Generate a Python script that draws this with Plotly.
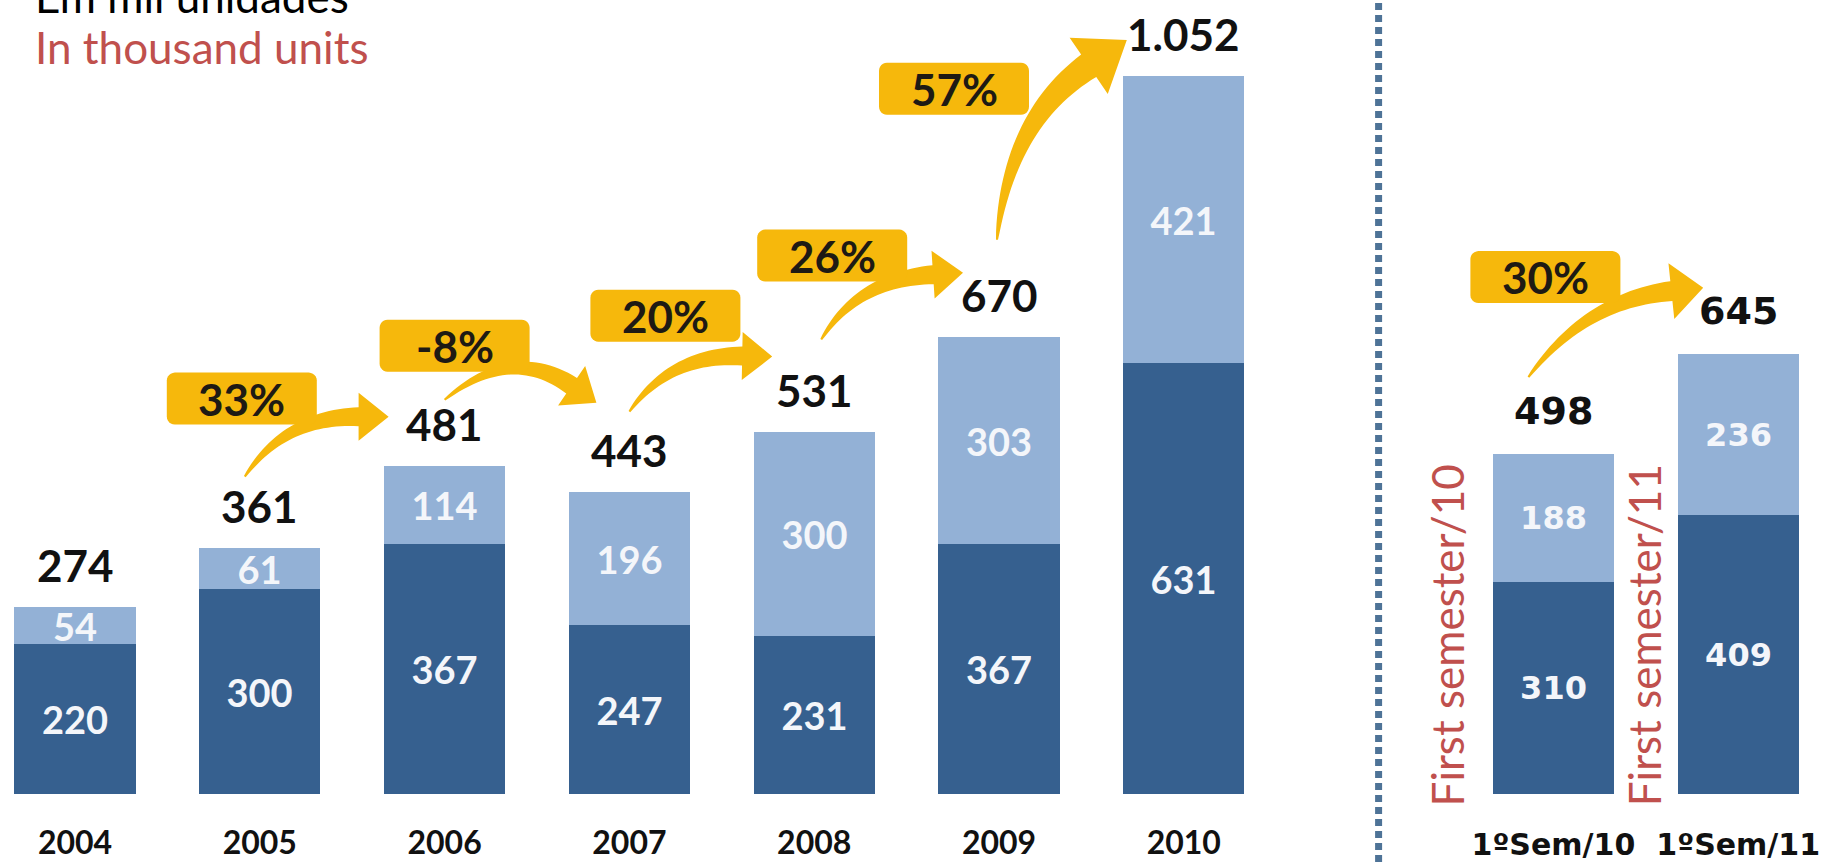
import math
import plotly.graph_objects as go

# ---- data -------------------------------------------------------------
years = ["2004", "2005", "2006", "2007", "2008", "2009", "2010"]
year_lower = [220, 300, 367, 247, 231, 367, 631]
year_upper = [54, 61, 114, 196, 300, 303, 421]

semesters = ["1ºSem/10", "1ºSem/11"]
sem_lower = [310, 409]
sem_upper = [188, 236]
sem_notes = ["First semester/10", "First semester/11"]

caption_pt = "Em mil unidades"
caption_en = "In thousand units"

# ---- canvas & scale ---------------------------------------------------
W, H = 1821, 862
SLOT = 184.8      # px per category slot
X0 = 75.0         # px centre of the first slot
BASE = 794.0      # px of the zero line, from the top
PPU = 0.6825      # px per unit on the value axis
BAR_W = 0.655
LABEL_GAP = 42

DARK = "#36608F"
LIGHT = "#93B1D6"
GOLD = "#F6B80C"
RED = "#C0504D"

x_range = [-X0 / SLOT, (W - X0) / SLOT]
y_range = [0, BASE / PPU]
y_domain = [(H - BASE) / H, 1]

year_pos = list(range(len(years)))
gap_pos = len(years)
sem_pos = [gap_pos + 1 + i for i in range(len(semesters))]

year_tot = [a + b for a, b in zip(year_lower, year_upper)]
sem_tot = [a + b for a, b in zip(sem_lower, sem_upper)]


def fmt(v):
    return f"{v:,}".replace(",", ".")


def to_px(x, y):
    return X0 + x * SLOT, BASE - y * PPU


def to_data(px, py):
    return (px - X0) / SLOT, (BASE - py) / PPU


fig = go.Figure()

inner_year = dict(family="Lato", size=38, color="#F4F6FA", weight="bold")
inner_sem = dict(family="DejaVu Sans", size=32, color="#F4F6FA", weight="bold")

for vals, col in ((year_lower, DARK), (year_upper, LIGHT)):
    fig.add_trace(go.Bar(
        x=year_pos, y=vals, width=BAR_W, marker=dict(color=col, line=dict(width=0)),
        text=[str(v) for v in vals], textposition="inside", insidetextanchor="middle",
        textangle=0, constraintext="none", textfont=inner_year,
        xaxis="x", yaxis="y", showlegend=False, hoverinfo="skip"))

for vals, col in ((sem_lower, DARK), (sem_upper, LIGHT)):
    fig.add_trace(go.Bar(
        x=sem_pos, y=vals, width=BAR_W, marker=dict(color=col, line=dict(width=0)),
        text=[str(v) for v in vals], textposition="inside", insidetextanchor="middle",
        textangle=0, constraintext="none", textfont=inner_sem,
        xaxis="x2", yaxis="y", showlegend=False, hoverinfo="skip"))

annotations = []
# totals above the stacks
for p, t in zip(year_pos, year_tot):
    annotations.append(dict(x=p, y=t, xref="x", yref="y", text=fmt(t), showarrow=False,
                            yanchor="middle", yshift=LABEL_GAP,
                            font=dict(family="Lato", size=44, color="#111111", weight="bold")))
for p, t in zip(sem_pos, sem_tot):
    annotations.append(dict(x=p, y=t, xref="x2", yref="y", text=fmt(t), showarrow=False,
                            yanchor="middle", yshift=LABEL_GAP + 1,
                            font=dict(family="DejaVu Sans", size=38, color="#111111", weight="bold")))

# growth arrows between consecutive totals, geometry given as px offsets
arrow_specs = [
    # tail offset, ctrl offset (from tail), tip offset, head len, head half, body width, box offset
    dict(src=1, dst=2, tail=(-15, -29), ctrl=(40, -60), tip=(-56, -7), hl=30, hh=24, bw=19, box=(-18, -107)),
    dict(src=2, dst=3, tail=(0, -24), ctrl=(67, -55), tip=(-33, -47), hl=30, hh=24, bw=19, box=(10, -78)),
    dict(src=3, dst=4, tail=(0, -38), ctrl=(40, -57), tip=(-42, -33), hl=30, hh=24, bw=19, box=(36, -134)),
    dict(src=4, dst=5, tail=(7, -50), ctrl=(36, -60), tip=(-36, -22), hl=30, hh=24, bw=19, box=(18, -134)),
    dict(src=5, dst=6, tail=(-2, -55), ctrl=(12, -120), tip=(-57, 6), hl=46, hh=34, bw=27, box=(-45, -206)),
]
sem_arrow = dict(src=0, dst=1, tail=(-25, -35), ctrl=(57, -77), tip=(-35, -24), hl=32, hh=28, bw=20, box=(-8, -135))


def bez(p0, p1, p2, t):
    a = (1 - t) ** 2
    b = 2 * (1 - t) * t
    c = t * t
    return (a * p0[0] + b * p1[0] + c * p2[0], a * p0[1] + b * p1[1] + c * p2[1])


def bez_d(p0, p1, p2, t):
    return (2 * (1 - t) * (p1[0] - p0[0]) + 2 * t * (p2[0] - p1[0]),
            2 * (1 - t) * (p1[1] - p0[1]) + 2 * t * (p2[1] - p1[1]))


def unit(v):
    n = math.hypot(v[0], v[1]) or 1.0
    return (v[0] / n, v[1] / n)


def path_from_px(points):
    pts = [to_data(px, py) for px, py in points]
    return "M " + " L ".join(f"{x:.5f},{y:.4f}" for x, y in pts) + " Z"


def arrow_points(tail, ctrl, tip, hl, hh, bw, tw=2.0, n=30):
    u = unit((tip[0] - ctrl[0], tip[1] - ctrl[1]))
    base = (tip[0] - u[0] * hl, tip[1] - u[1] * hl)
    left, right = [], []
    for k in range(n + 1):
        t = k / n
        p = bez(tail, ctrl, base, t)
        d = unit(bez_d(tail, ctrl, base, t))
        nrm = (-d[1], d[0])
        w = (tw + (bw - tw) * t ** 0.8) / 2
        left.append((p[0] + nrm[0] * w, p[1] + nrm[1] * w))
        right.append((p[0] - nrm[0] * w, p[1] - nrm[1] * w))
    nu = (-u[1], u[0])
    head = [(base[0] + nu[0] * hh, base[1] + nu[1] * hh), tip,
            (base[0] - nu[0] * hh, base[1] - nu[1] * hh)]
    return left + head + right[::-1]


def rounded_box(cx, cy, w, h, r=8, n=6):
    pts = []
    corners = [(cx + w / 2 - r, cy - h / 2 + r, -90), (cx + w / 2 - r, cy + h / 2 - r, 0),
               (cx - w / 2 + r, cy + h / 2 - r, 90), (cx - w / 2 + r, cy - h / 2 + r, 180)]
    for ccx, ccy, a0 in corners:
        for k in range(n + 1):
            a = math.radians(a0 + 90 * k / n)
            pts.append((ccx + r * math.cos(a), ccy + r * math.sin(a)))
    return pts


shapes = []
boxes = []


def add_arrow(spec, pos, tot):
    sx, sy = to_px(pos[spec["src"]], tot[spec["src"]])
    sy -= LABEL_GAP
    dx, dy = to_px(pos[spec["dst"]], tot[spec["dst"]])
    dy -= LABEL_GAP
    tail = (sx + spec["tail"][0], sy + spec["tail"][1])
    ctrl = (tail[0] + spec["ctrl"][0], tail[1] + spec["ctrl"][1])
    tip = (dx + spec["tip"][0], dy + spec["tip"][1])
    shapes.append(dict(type="path", xref="x", yref="y", layer="above",
                       path=path_from_px(arrow_points(tail, ctrl, tip, spec["hl"], spec["hh"], spec["bw"])),
                       fillcolor=GOLD, line=dict(width=0)))
    bx, by = sx + spec["box"][0], sy + spec["box"][1]
    boxes.append(dict(type="path", xref="x", yref="y", layer="above",
                      path=path_from_px(rounded_box(bx, by, 150, 52)),
                      fillcolor=GOLD, line=dict(width=0)))
    growth = round((tot[spec["dst"]] / tot[spec["src"]] - 1) * 100)
    cx, cy = to_data(bx, by)
    annotations.append(dict(x=cx, y=cy, xref="x", yref="y", text=f"{growth}%", showarrow=False,
                            xanchor="center", yanchor="middle",
                            font=dict(family="Lato", size=44, color="#1E1A14", weight="bold")))


for spec in arrow_specs:
    add_arrow(spec, year_pos, year_tot)
add_arrow(sem_arrow, sem_pos, sem_tot)

shapes.extend(boxes)

# dotted separator between the yearly and half-year groups
sep_x = gap_pos + 10 / SLOT
shapes.insert(0, dict(type="line", xref="x", yref="paper", x0=sep_x, x1=sep_x, y0=0, y1=1,
                      line=dict(color="#4E7397", width=7, dash="7px,5px"), layer="below"))

# rotated notes beside the half-year bars
for p, note, shift in zip(sem_pos, sem_notes, (-106, -94)):
    annotations.append(dict(x=p, y=(BASE - 635) / PPU, xref="x2", yref="y", text=note,
                            showarrow=False, textangle=-90, xanchor="center", yanchor="middle",
                            xshift=shift, font=dict(family="Lato", size=44, color=RED)))

# unit captions in the top-left corner
annotations.append(dict(x=33 / W, y=1 + 32.4 / H, xref="paper", yref="paper", text=caption_pt,
                        showarrow=False, xanchor="left", yanchor="top",
                        font=dict(family="Lato", size=44, color="#000000")))
annotations.append(dict(x=33 / W, y=1 - 18.6 / H, xref="paper", yref="paper", text=caption_en,
                        showarrow=False, xanchor="left", yanchor="top",
                        font=dict(family="Lato", size=44, color=RED)))

axis_common = dict(range=x_range, showgrid=False, zeroline=False, showline=False,
                   ticks="", domain=[0, 1])
fig.update_layout(
    width=W, height=H, margin=dict(l=0, r=0, t=0, b=0),
    paper_bgcolor="white", plot_bgcolor="white",
    barmode="stack", bargap=0, showlegend=False,
    xaxis=dict(**axis_common, tickvals=year_pos, ticktext=years, anchor="y", ticklabelstandoff=27,
               tickfont=dict(family="Lato", size=32, color="#111111", weight="bold")),
    xaxis2=dict(**axis_common, tickvals=sem_pos, ticktext=semesters, anchor="y",
                overlaying="x", side="bottom", ticklabelstandoff=30,
                tickfont=dict(family="DejaVu Sans", size=30, color="#111111", weight="bold")),
    yaxis=dict(range=y_range, domain=y_domain, visible=False, fixedrange=True),
    shapes=shapes, annotations=annotations,
)

fig.write_html("out.html")
